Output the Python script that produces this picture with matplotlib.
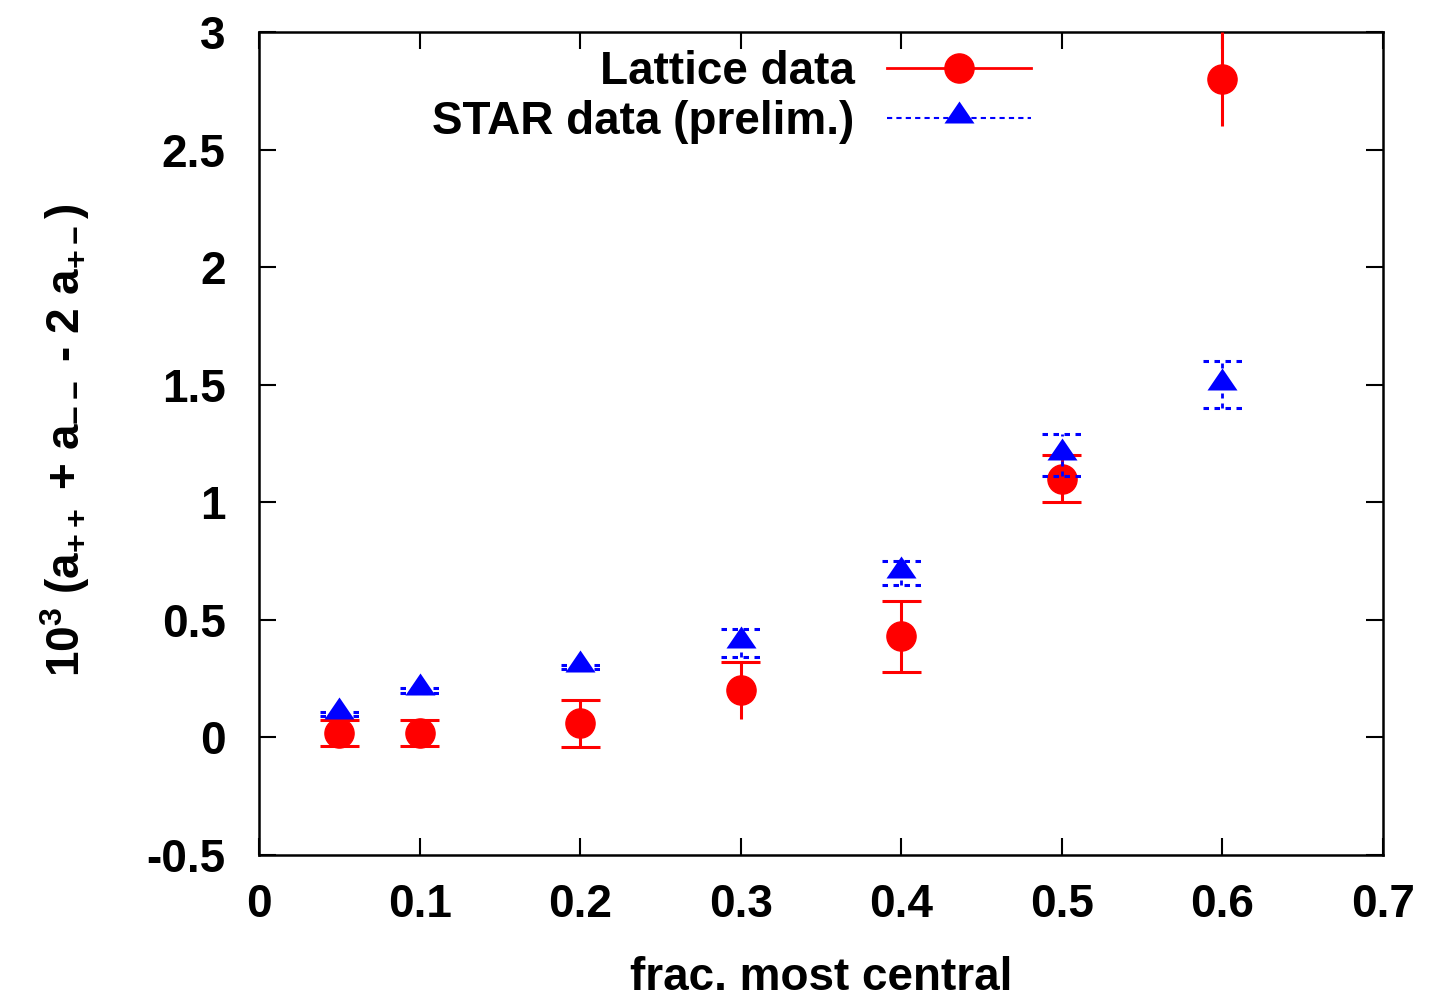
import matplotlib
matplotlib.use("Agg")
import matplotlib.pyplot as plt
from matplotlib.lines import Line2D
from matplotlib.ticker import FuncFormatter

plt.rcParams['font.family'] = ['Liberation Sans', 'DejaVu Sans']
plt.rcParams['font.weight'] = 'bold'
plt.rcParams['axes.unicode_minus'] = False
plt.rcParams['mathtext.fontset'] = 'custom'
plt.rcParams['mathtext.rm'] = 'Liberation Sans:bold'
plt.rcParams['mathtext.it'] = 'Liberation Sans:bold'
plt.rcParams['mathtext.bf'] = 'Liberation Sans:bold'

# Lattice data
lat_x = [0.05, 0.1, 0.2, 0.3, 0.4, 0.5, 0.6]
lat_y = [0.02, 0.02, 0.06, 0.20, 0.43, 1.10, 2.80]
lat_err = [0.055, 0.055, 0.10, 0.12, 0.15, 0.10, 0.20]

# STAR data (prelim.)
star_x = [0.05, 0.1, 0.2, 0.3, 0.4, 0.5, 0.6]
star_y = [0.10, 0.20, 0.30, 0.40, 0.70, 1.20, 1.50]
star_err = [0.01, 0.01, 0.01, 0.06, 0.05, 0.09, 0.10]

x_ticks = [0, 0.1, 0.2, 0.3, 0.4, 0.5, 0.6, 0.7]
y_ticks = [-0.5, 0, 0.5, 1, 1.5, 2, 2.5, 3]

# which caps are drawn (lower, upper) -- styling as seen in the reference
lat_caps = [(1, 1), (1, 1), (1, 1), (0, 1), (1, 1), (1, 1), (0, 0)]

FS = 33
RED = '#ff0000'
BLUE = '#0000ff'

fig = plt.figure(figsize=(14.30, 10.02), dpi=100)
ax = fig.add_axes([259/1430, 1 - 855/1002, (1383-259)/1430, (855-32)/1002])

circ_ms = 21
tri = [(-15, -5), (15, -5), (0, 17)]
tri_ms = 24.5
capw = 0.0122
dash = (0, (1.8, 1.8))

# Lattice
ax.errorbar(lat_x, lat_y, yerr=lat_err, fmt='o', color=RED, ms=circ_ms,
            elinewidth=2.2, capsize=0, zorder=3)
for xv, yv, e, (lo, hi) in zip(lat_x, lat_y, lat_err, lat_caps):
    for flag, yy in ((lo, yv - e), (hi, yv + e)):
        if flag:
            ax.plot([xv - capw, xv + capw], [yy, yy], color=RED, lw=2.2,
                    solid_capstyle='butt', zorder=3)

# STAR
eb = ax.errorbar(star_x, star_y, yerr=star_err, fmt='none', ecolor=BLUE,
                 elinewidth=2.0, capsize=0, zorder=4)
for coll in eb.lines[2]:
    coll.set_linestyle(dash)
ax.plot(star_x, star_y, linestyle='none', marker=tri, color=BLUE, ms=tri_ms,
        markeredgewidth=0, zorder=5)
for xv, yv, e in zip(star_x, star_y, star_err):
    for yy in (yv - e, yv + e):
        ax.plot([xv - capw, xv + capw], [yy, yy], color=BLUE, lw=2.2,
                linestyle=dash, zorder=4)

ax.set_xlim(0, 0.7)
ax.set_ylim(-0.5, 3)
ax.set_xticks(x_ticks)
ax.set_yticks(y_ticks)
fmt = FuncFormatter(lambda v, p: '%g' % v)
ax.xaxis.set_major_formatter(fmt)
ax.yaxis.set_major_formatter(fmt)
ax.tick_params(direction='in', length=12, width=1.5, top=True, right=True,
               labelsize=FS)
ax.tick_params(axis='x', pad=20)
ax.tick_params(axis='y', pad=24)
for s in ax.spines.values():
    s.set_linewidth(1.8)

xl = ax.set_xlabel('frac. most central', fontsize=FS, fontweight='bold')
xl.set_va('center')
ax.xaxis.set_label_coords(0.5, (855 - 978) / 823)
yl = ax.set_ylabel(r'10$^3$ (a$_{++}$ + a$_{--}$ - 2 a$_{+-}$)', fontsize=FS,
                   fontweight='bold')
yl.set_va('center')
ax.yaxis.set_label_coords((65 - 259) / 1124, (855 - 440) / 823)

h1 = Line2D([], [], color=RED, lw=2.0, marker='o', ms=circ_ms)
h2 = Line2D([], [], color=BLUE, lw=1.5, linestyle=(0, (2.5, 2.0)),
            marker=tri, ms=tri_ms, markeredgewidth=0)
leg = ax.legend([h1, h2], ['Lattice data', 'STAR data (prelim.)'],
                loc='upper right', bbox_to_anchor=((1031-259)/1124, 1 - 18/823),
                frameon=False, markerfirst=False, fontsize=FS,
                handlelength=3.15, handletextpad=0.7, labelspacing=0.125,
                borderpad=0, borderaxespad=0)

fig.savefig('out.png', dpi=100)
